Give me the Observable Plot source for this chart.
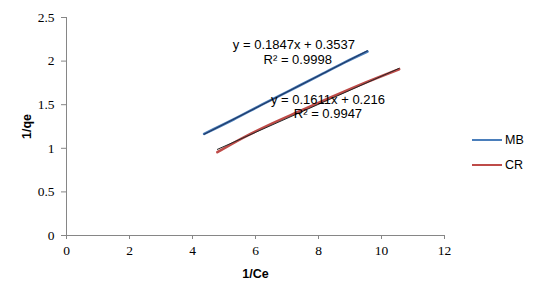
<!DOCTYPE html>
<html>
<head>
<meta charset="utf-8">
<script src="https://cdn.jsdelivr.net/npm/d3@7"></script>
<script src="https://cdn.jsdelivr.net/npm/@observablehq/plot@0.6"></script>
<style>
  html, body { margin: 0; padding: 0; background: #fff; }
  #wrap { position: relative; width: 536px; height: 295px; }
  #legend { position: absolute; left: 472px; top: 132px; font: 12.5px "Liberation Sans", Arial, sans-serif; color: #000; }
  .li { display: flex; align-items: center; height: 16px; margin-bottom: 9px; }
  .sw { width: 30px; height: 2.5px; margin-right: 3px; }
</style>
</head>
<body>
<div id="wrap"></div>
<script>
// Series data
const mbX = [4.37, 5.3, 6.2, 7.1, 8.0, 8.8, 9.555];
const mbY = [1.166, 1.33, 1.50, 1.665, 1.83, 1.98, 2.11];
const crX = [4.79, 5.6, 6.5, 7.4, 8.4, 9.5, 10.56];
const crY = [0.955, 1.12, 1.28, 1.425, 1.585, 1.755, 1.907];

// Trendline equations (from labels)
const mbSlope = 0.1847, mbIntercept = 0.3537;
const crSlope = 0.1611, crIntercept = 0.216;

const seriesNames = ["MB", "CR"];
const seriesColors = ["#4A7EBB", "#BE4B48"];
const trendColors = ["#1F3864", "#262626"];

// Annotation labels and their anchor positions (data coords)
const labelTexts = ["y = 0.1847x + 0.3537", "R² = 0.9998", "y = 0.1611x + 0.216", "R² = 0.9947"];
const labelX = [7.22, 7.34, 8.3, 8.3];
const labelY = [2.19, 2.02, 1.56, 1.39];

const xTicks = [0, 2, 4, 6, 8, 10, 12];
const yTicks = [0, 0.5, 1, 1.5, 2, 2.5];

const mb = mbX.map((x, i) => ({x, y: mbY[i]}));
const cr = crX.map((x, i) => ({x, y: crY[i]}));
const mbTrend = [mbX[0], mbX[mbX.length - 1]].map(x => ({x, y: mbSlope * x + mbIntercept}));
const crTrend = [crX[0], crX[crX.length - 1]].map(x => ({x, y: crSlope * x + crIntercept}));
const labels = labelTexts.map((t, i) => ({t, x: labelX[i], y: labelY[i]}));

const axisColor = "#868686";

const chart = Plot.plot({
  width: 536,
  height: 295,
  marginLeft: 66,
  marginRight: 92,
  marginTop: 17,
  marginBottom: 60,
  x: {domain: [0, 12]},
  y: {domain: [0, 2.5]},
  style: {fontFamily: '"Liberation Sans", Arial, sans-serif', background: "#fff", color: "#000"},
  marks: [
    Plot.axisX(xTicks, {tickSize: 4, tickPadding: 6, stroke: axisColor,
      label: "1/Ce", labelAnchor: "center", labelArrow: "none", labelOffset: 42}),
    Plot.axisY(yTicks, {tickSize: 5, tickPadding: 7, stroke: axisColor,
      label: "1/qe", labelAnchor: "center", labelArrow: "none", labelOffset: 44, tickFormat: d => String(d)}),
    Plot.ruleY([0], {stroke: axisColor}),
    Plot.ruleX([0], {stroke: axisColor}),
    Plot.line(mb, {x: "x", y: "y", stroke: seriesColors[0], strokeWidth: 2.6, curve: "monotone-x"}),
    Plot.line(cr, {x: "x", y: "y", stroke: seriesColors[1], strokeWidth: 2.6, curve: "monotone-x"}),
    Plot.line(mbTrend, {x: "x", y: "y", stroke: trendColors[0], strokeWidth: 1.1}),
    Plot.line(crTrend, {x: "x", y: "y", stroke: trendColors[1], strokeWidth: 1}),
    Plot.text(labels, {x: "x", y: "y", text: "t", fontSize: 13, fill: "#000"})
  ]
});

// style tick labels (serif) and axis titles (bold)
chart.querySelectorAll('g[aria-label="x-axis tick label"], g[aria-label="y-axis tick label"]').forEach(g => {
  g.setAttribute("style", 'font-family: "Liberation Serif", "Times New Roman", serif; font-size: 13.5px; fill: #000;');
});
chart.querySelectorAll('g[aria-label="x-axis label"], g[aria-label="y-axis label"]').forEach(g => {
  g.setAttribute("style", 'font-weight: bold; font-size: 12.5px; fill: #000;');
});

const wrap = document.getElementById("wrap");
wrap.appendChild(chart);

const legend = document.createElement("div");
legend.id = "legend";
seriesNames.forEach((name, i) => {
  const row = document.createElement("div");
  row.className = "li";
  const sw = document.createElement("span");
  sw.className = "sw";
  sw.style.background = seriesColors[i];
  const lb = document.createElement("span");
  lb.textContent = name;
  row.appendChild(sw);
  row.appendChild(lb);
  legend.appendChild(row);
});
wrap.appendChild(legend);
</script>
</body>
</html>
